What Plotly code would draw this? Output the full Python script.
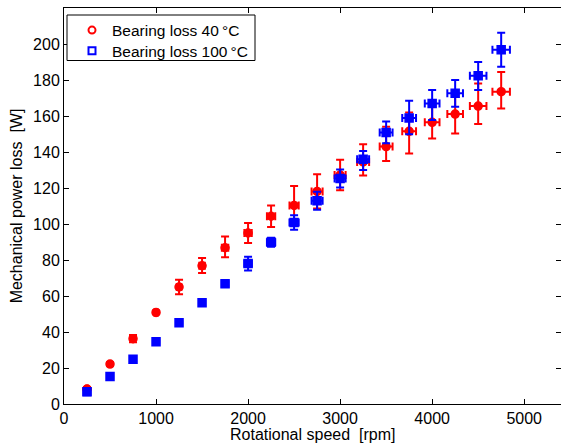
import plotly.graph_objects as go

# Rotational speed [rpm]
speed = [250, 500, 750, 1000, 1250, 1500, 1750, 2000, 2250, 2500,
         2750, 3000, 3250, 3500, 3750, 4000, 4250, 4500, 4750]
speed_err = [5, 10, 15, 20, 25, 30, 35, 40, 45, 50,
             60, 60, 65, 70, 75, 80, 85, 90, 95]

# Bearing loss at 40 °C [W]
loss_40 = [8.3, 22.2, 36.3, 50.9, 65.0, 76.8, 86.8, 95.0, 104.3, 110.3,
           118.1, 127.2, 134.5, 143.0, 151.5, 156.5, 161.1, 165.5, 173.5]
loss_40_up = [1.0, 1.0, 2.0, 1.0, 4.0, 4.3, 6.2, 5.5, 6.0, 10.8,
              9.5, 8.5, 9.8, 11.0, 10.5, 9.0, 11.0, 12.6, 10.9]
loss_40_dn = [1.0, 1.0, 2.0, 1.0, 4.0, 4.0, 5.3, 5.5, 6.0, 10.8,
              9.5, 8.5, 7.5, 8.0, 12.3, 9.0, 10.8, 9.9, 9.3]

# Bearing loss at 100 °C [W]
loss_100 = [6.8, 15.3, 24.8, 34.6, 45.2, 56.2, 66.8, 78.0, 89.8, 100.8,
            112.9, 125.3, 136.0, 150.9, 158.9, 167.0, 172.6, 182.4, 196.8]
loss_100_up = [1.5, 0.5, 1.5, 0.5, 0.5, 1.7, 1.0, 3.8, 2.5, 4.0,
               5.0, 5.0, 4.5, 6.1, 9.6, 7.4, 7.4, 7.6, 9.5]
loss_100_dn = [1.5, 0.5, 1.5, 0.5, 0.5, 1.7, 1.0, 3.8, 2.5, 4.0,
               5.0, 5.0, 6.0, 6.1, 9.0, 9.2, 7.4, 8.0, 9.4]

x_ticks = [0, 1000, 2000, 3000, 4000, 5000]
y_ticks = [0, 20, 40, 60, 80, 100, 120, 140, 160, 180, 200]

RED = "#ff0000"
BLUE = "#0000ff"
FONT = "Arial, 'Liberation Sans', Helvetica, sans-serif"
NB = "\u00a0"

# plot-area geometry in pixels (figure is 561 x 445)
PLOT_L, PLOT_T, PLOT_B = 64, 8, 404
PLOT_H = PLOT_B - PLOT_T
PLOT_W = 561 - PLOT_L


def px_x(px):
    return (px - PLOT_L) / PLOT_W


def px_y(py):
    return (PLOT_B - py) / PLOT_H


def series(y, up, dn, color, symbol):
    return go.Scatter(
        x=speed, y=y, mode="markers", showlegend=False,
        marker=dict(symbol=symbol, size=8, color=color,
                    line=dict(color=color, width=1.5)),
        error_y=dict(type="data", symmetric=False, array=up, arrayminus=dn,
                     color=color, thickness=2, width=4),
        error_x=dict(type="data", array=speed_err,
                     color=color, thickness=2, width=4),
    )


def legend_entry(name, y, color, symbol, legend):
    # open-marker key for the legend; its single point sits under the
    # filled marker of the first measurement
    return go.Scatter(
        x=speed[:1], y=y[:1], mode="markers", name=name, legend=legend,
        marker=dict(symbol=symbol, size=7, color=color,
                    line=dict(color=color, width=2)),
    )


fig = go.Figure()
fig.add_trace(legend_entry(f"Bearing loss 40\u2009°C", loss_40, RED,
                           "circle-open", "legend"))
fig.add_trace(legend_entry(f"Bearing loss 100\u2009°C", loss_100, BLUE,
                           "square-open", "legend2"))
fig.add_trace(series(loss_40, loss_40_up, loss_40_dn, RED, "circle"))
fig.add_trace(series(loss_100, loss_100_up, loss_100_dn, BLUE, "square"))

axis_common = dict(
    showline=True, linecolor="black", linewidth=1, mirror="ticks",
    ticks="inside", ticklen=5, tickcolor="black", tickwidth=1,
    showgrid=False, zeroline=False,
    tickfont=dict(family=FONT, size=16, color="black"),
)

legend_common = dict(
    xanchor="left", yanchor="top", bgcolor="rgba(0,0,0,0)", borderwidth=0,
    font=dict(family=FONT, size=15.5, color="black"),
)

fig.update_layout(
    width=561, height=445,
    margin=dict(l=PLOT_L, r=0, t=PLOT_T, b=445 - PLOT_B),
    paper_bgcolor="white", plot_bgcolor="white",
    font=dict(family=FONT, size=16, color="black"),
    xaxis=dict(range=[0, 5400], tickvals=x_ticks, **axis_common),
    yaxis=dict(range=[0, 220], tickvals=y_ticks,
               title=dict(text=f"Mechanical power loss {NB}[W]", standoff=6,
                          font=dict(family=FONT, size=16, color="black")),
               **axis_common),
    legend=dict(x=px_x(72), y=px_y(13.5), **legend_common),
    legend2=dict(x=px_x(72), y=px_y(34.2), **legend_common),
    shapes=[dict(type="rect", xref="paper", yref="paper",
                 x0=px_x(67), x1=px_x(255), y0=px_y(15), y1=px_y(60.5),
                 line=dict(color="black", width=1), fillcolor="white",
                 layer="above")],
    annotations=[dict(text=f"Rotational speed {NB}[rpm]",
                      xref="paper", yref="paper", x=0.5, y=px_y(444),
                      xanchor="center", yanchor="bottom", showarrow=False,
                      borderpad=0,
                      font=dict(family=FONT, size=16, color="black"))],
)

fig.write_html("out.html")
